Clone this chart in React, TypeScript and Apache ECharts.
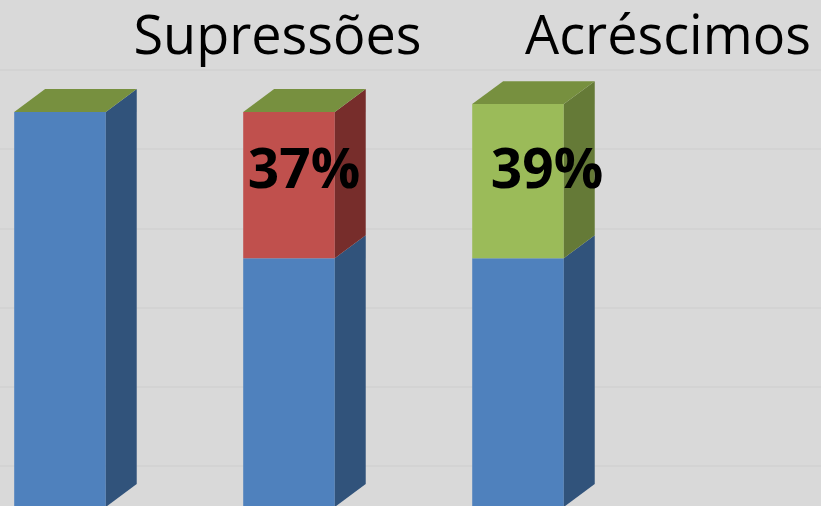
import React, { useEffect, useRef } from "react";
import * as echarts from "echarts";

// ---- data ----
const categories = ["Original", "Supressões", "Acréscimos"];
const baseValues = [100, 63, 63];
const supressoes = [0, 37, 0];
const acrescimos = [0, 0, 39];
const titles = ["Supressões", "Acréscimos"];
const wallTicks = { min: 0, max: 100, interval: 20 };

// ---- styling ----
const COLORS: Record<number, { front: string; side: string }> = {
  0: { front: "#4f81bd", side: "#31537b" },
  1: { front: "#c0504d", side: "#772d2b" },
  2: { front: "#9bbb59", side: "#657a37" },
};
const TOP_COLOR = "#77903f";
const BAR_W = 0.4; // in category units
const DEPTH_X = 0.135; // in category units
const DEPTH_V = 5.8; // in value units
const LABEL_SHIFT: number[][] = [
  [0, 0],
  [15, -19],
  [29, -15],
];

function buildData() {
  const rows: number[][] = [];
  categories.forEach((_, i) => {
    const segs = [baseValues[i], supressoes[i], acrescimos[i]];
    let acc = 0;
    const nonZero = segs.map((v, k) => ({ v, k })).filter((s) => s.v > 0);
    nonZero.forEach((s, idx) => {
      rows.push([i, acc, acc + s.v, s.k, idx === nonZero.length - 1 ? 1 : 0]);
      acc += s.v;
    });
  });
  return rows;
}

export default function App() {
  const ref = useRef<HTMLDivElement>(null);
  useEffect(() => {
    document.body.style.margin = "0";
    const chart = echarts.init(ref.current!, undefined, { renderer: "svg" });
    const renderItem = (params: any, api: any) => {
      const i = api.value(0);
      const lo = api.value(1);
      const hi = api.value(2);
      const kind = api.value(3);
      const isTop = api.value(4);
      const pLo = api.coord([i, lo]);
      const pHi = api.coord([i, hi]);
      const w = api.size([BAR_W, 0])[0];
      const dx = api.size([DEPTH_X, 0])[0];
      const dy = api.size([0, DEPTH_V])[1];
      const x0 = pLo[0] - w / 2;
      const x1 = x0 + w;
      const yT = pHi[1];
      const yB = pLo[1];
      const c = COLORS[kind];
      const children: any[] = [
        {
          type: "rect",
          shape: { x: x0, y: yT, width: w, height: yB - yT },
          style: { fill: c.front },
        },
        {
          type: "polygon",
          shape: {
            points: [
              [x1, yT],
              [x1 + dx, yT - dy],
              [x1 + dx, yB - dy],
              [x1, yB],
            ],
          },
          style: { fill: c.side },
        },
      ];
      if (isTop) {
        children.push({
          type: "polygon",
          shape: {
            points: [
              [x0, yT],
              [x0 + dx, yT - dy],
              [x1 + dx, yT - dy],
              [x1, yT],
            ],
          },
          style: { fill: TOP_COLOR },
        });
      }
      if (kind !== 0) {
        const sh = LABEL_SHIFT[i];
        children.push({
          type: "text",
          x: pLo[0] + sh[0],
          y: (yT + yB) / 2 + sh[1],
          style: {
            text: `${hi - lo}%`,
            fill: "#000",
            font: "bold 55px 'Open Sans'",
            align: "center",
            verticalAlign: "middle",
          },
        });
      }
      return { type: "group", children };
    };

    chart.setOption({
      animation: false,
      backgroundColor: "#d9d9d9",
      grid: [
        { left: 0, right: 0, top: 0, bottom: 0 },
        { left: 0, right: 0, top: 70, bottom: 40 },
      ],
      xAxis: [
        { type: "value", gridIndex: 0, min: -0.262, max: 3.323, show: false },
        { type: "value", gridIndex: 1, min: 0, max: 1, show: false },
      ],
      yAxis: [
        { type: "value", gridIndex: 0, min: 0.25, max: 128.35, show: false },
        {
          type: "value",
          gridIndex: 1,
          min: wallTicks.min,
          max: wallTicks.max,
          interval: wallTicks.interval,
          axisLabel: { show: false },
          axisLine: { show: false },
          axisTick: { show: false },
          splitLine: { show: true, lineStyle: { color: "#d0d0d0", width: 1.5 } },
        },
      ],
      graphic: [
        {
          type: "text",
          x: 277.5,
          y: 33,
          style: {
            text: titles[0],
            font: "54px 'Open Sans'",
            fill: "#000",
            align: "center",
            verticalAlign: "middle",
          },
        },
        {
          type: "text",
          x: 668,
          y: 33,
          style: {
            text: titles[1],
            font: "54px 'Open Sans'",
            fill: "#000",
            align: "center",
            verticalAlign: "middle",
          },
        },
      ],
      series: [
        {
          type: "custom",
          renderItem,
          xAxisIndex: 0,
          yAxisIndex: 0,
          clip: false,
          data: buildData(),
          z: 3,
        },
      ],
    });
    return () => chart.dispose();
  }, []);
  return <div ref={ref} style={{ width: 821, height: 506 }} />;
}
